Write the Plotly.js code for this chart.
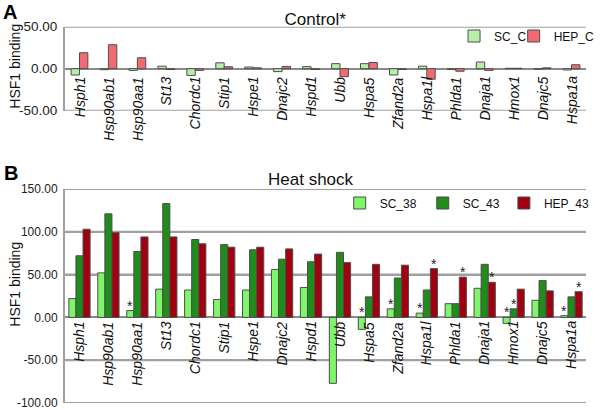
<!DOCTYPE html>
<html>
<head>
<meta charset="utf-8">
<script src="https://cdn.plot.ly/plotly-3.0.1.min.js"></script>
<style>html,body{margin:0;padding:0;background:#fff;}#chart{width:600px;height:410px;}</style>
</head>
<body>
<div id="chart"></div>
<script>
// ---- data ----
const categories = ['Hsph1','Hsp90ab1','Hsp90aa1','St13','Chordc1','Stip1','Hspe1','Dnajc2','Hspd1','Ubb','Hspa5','Zfand2a','Hspa1l','Phlda1','Dnaja1','Hmox1','Dnajc5','Hspa1a'];

// Panel A: control
const scC  = [-7.5, -1.2, -2, 3, -8, 7, 2, -3.5, 2.5, 6, 6, -7.5, 3, -1, 8, 0.5, -0.5, -1.5];
const hepC = [19, 28.5, 13, -1, -2, 2.3, 1, 2.7, -1, -9.5, 7.4, -1, -12.5, -3, -2, 0.5, 1, 4.7];

// Panel B: heat shock
const sc38  = [22, 52, 8, 33, 32, 21, 32, 56, 35, -77, -14, 10, 5, 16, 34, -7, 20, 2];
const sc43  = [72, 121, 77, 133, 91, 85, 79, 68, 65, 76, 24, 46, 32, 16, 62, 10, 43, 24];
const hep43 = [103, 99, 94, 94, 86, 82, 82, 80, 74, 64, 62, 61, 57, 47, 41, 33, 31, 30];

// significance marks (*)
const sc38Starred  = ['Hsp90aa1','Hspa5','Zfand2a','Hspa1l','Hmox1','Hspa1a'];
const sc43Starred  = ['Hmox1'];
const hep43Starred = ['Hspa1l','Phlda1','Dnaja1','Hspa1a'];

// tick labels
const yTicksA = [-50, 0, 50];
const yTickTextA = ['-50.00', '0.00', '50.00'];
const yTicksB = [-100, -50, 0, 50, 100, 150];
const yTickTextB = ['-100.00', '-50.00', '0.00', '50.00', '100.00', '150.00'];

// ---- layout helpers ----
const FONT = '"Liberation Sans", Arial, sans-serif';
const H = 410;
const py = px => 1 - px / H;             // pixel row -> paper fraction
const plotLeft = 65, plotRight = 598;
const pxX = px => (px - plotLeft) / (plotRight - plotLeft);

const domA = [py(110.7), py(26.7)];
const domB = [py(403), py(189)];
const rangeA = [-50, 50];
const rangeB = [-100, 150];

const outline = {color: '#4d4d4d', width: 1};
const wA = 0.29, wB = 0.245;

const traces = [
  {type:'bar', name:'SC_C', x:categories, y:scC, xaxis:'x', yaxis:'y', width:wA, offset:-wA,
   marker:{color:'#b5efa9', line:outline}, legend:'legend'},
  {type:'bar', name:'HEP_C', x:categories, y:hepC, xaxis:'x', yaxis:'y', width:wA, offset:0,
   marker:{color:'#f26b73', line:outline}, legend:'legend2'},
  {type:'bar', name:'SC_38', x:categories, y:sc38, xaxis:'x2', yaxis:'y2', width:wB, offset:-1.5*wB,
   marker:{color:'#7ff56b', line:outline}, legend:'legend3'},
  {type:'bar', name:'SC_43', x:categories, y:sc43, xaxis:'x2', yaxis:'y2', width:wB, offset:-0.5*wB,
   marker:{color:'#1f8c1c', line:outline}, legend:'legend4'},
  {type:'bar', name:'HEP_43', x:categories, y:hep43, xaxis:'x2', yaxis:'y2', width:wB, offset:0.5*wB,
   marker:{color:'#a0000f', line:outline}, legend:'legend5'}
];

const annotations = [];

// category labels sitting on the zero line
categories.forEach(c => {
  [['x','y',-6],['x2','y2',-2]].forEach(([xr, yr, sh]) => {
    annotations.push({xref:xr, yref:yr, x:c, y:0, text:c, textangle:-90, showarrow:false,
      xanchor:'center', yanchor:'top', yshift:sh,
      font:{family:FONT, size:14, color:'#111', style:'italic'}});
  });
});

// asterisks
function addStars(list, values, offset) {
  list.forEach(c => {
    const i = categories.indexOf(c);
    annotations.push({xref:'x2', yref:'y2', x: i + offset + wB / 2, y: Math.max(values[i], 0),
      text:'*', showarrow:false, yanchor:'bottom', yshift:-5,
      font:{family:FONT, size:14, color:'#222'}});
  });
}
addStars(sc38Starred, sc38, -1.5 * wB);
addStars(sc43Starred, sc43, -0.5 * wB);
addStars(hep43Starred, hep43, 0.5 * wB);

// panel letters, titles, y titles
annotations.push(
  {xref:'paper', yref:'paper', x:pxX(0), y:py(-1), xanchor:'left', yanchor:'top', text:'<b>A</b>', showarrow:false,
   font:{family:FONT, size:20, color:'#000'}},
  {xref:'paper', yref:'paper', x:pxX(1), y:py(160), xanchor:'left', yanchor:'top', text:'<b>B</b>', showarrow:false,
   font:{family:FONT, size:20, color:'#000'}},
  {xref:'paper', yref:'paper', x:pxX(317), y:py(180), xanchor:'center', yanchor:'middle', text:'Heat shock', showarrow:false,
   font:{family:FONT, size:17, color:'#111'}},
  {xref:'paper', yref:'paper', x:pxX(13.5), y:py(66), xanchor:'center', yanchor:'middle', text:'HSF1 binding', textangle:-90, showarrow:false,
   font:{family:FONT, size:14, color:'#111'}},
  {xref:'paper', yref:'paper', x:pxX(13.5), y:py(284), xanchor:'center', yanchor:'middle', text:'HSF1 binding', textangle:-90, showarrow:false,
   font:{family:FONT, size:14, color:'#111'}}
);

const gridCol = '#a0a0a0';

// horizontal grid lines at the y tick values (behind the bars)
const shapes = [];
[['y',yTicksA],['y2',yTicksB]].forEach(([yr, ticks]) => {
  ticks.forEach(v => {
    if (v === 0) return;
    shapes.push({type:'line', xref:'paper', yref:yr, x0:0, x1:1, y0:v, y1:v, layer:'below',
      line:{color:gridCol, width:2}});
  });
});

function yAxis(dom, rng, tv, tt, anchor, fs) {
  return {domain:dom, range:rng, anchor:anchor, tickvals:tv, ticktext:tt, showgrid:true, gridcolor:gridCol, gridwidth:2,
    zeroline:true, zerolinecolor:'#8a8a8a', zerolinewidth:2, showline:true, linecolor:gridCol, linewidth:2,
    ticks:'', ticklabelstandoff:3, ticklabeloverflow:'allow', tickfont:{family:FONT, size:fs, color:'#222'}, fixedrange:true};
}
function xAxis(anchorY) {
  return {domain:[0,1], type:'category', categoryorder:'array', categoryarray:categories, range:[-0.5, categories.length - 0.5],
    anchor:anchorY, showgrid:false, showline:false, zeroline:false, ticks:'', showticklabels:false, fixedrange:true};
}
function leg(leftPx, rowPx) {
  return {orientation:'h', x:pxX(leftPx), y:py(rowPx), xanchor:'left', yanchor:'middle', bgcolor:'rgba(0,0,0,0)',
    font:{family:FONT, size:12, color:'#111'}, itemclick:false};
}

const layout = {
  width:600, height:410, margin:{l:plotLeft, r:600 - plotRight, t:0, b:0},
  paper_bgcolor:'#fff', plot_bgcolor:'#fff', barmode:'overlay', showlegend:true,
  font:{family:FONT, color:'#111'},
  title:{text:'Control*', x:pxX(321), xref:'paper', xanchor:'center', y:py(19), yref:'container', yanchor:'middle',
    font:{family:FONT, size:17, color:'#111'}},
  xaxis:xAxis('y'),
  yaxis:yAxis(domA, rangeA, yTicksA, yTickTextA, 'x', 13.5),
  xaxis2:xAxis('y2'),
  yaxis2:yAxis(domB, rangeB, yTicksB, yTickTextB, 'x2', 12),
  legend:leg(463, 36),
  legend2:leg(524, 36),
  legend3:leg(346, 203),
  legend4:leg(431, 203),
  legend5:leg(514, 203),
  shapes:shapes,
  annotations:annotations
};

Plotly.newPlot('chart', traces, layout, {staticPlot:true, displayModeBar:false});
</script>
</body>
</html>
